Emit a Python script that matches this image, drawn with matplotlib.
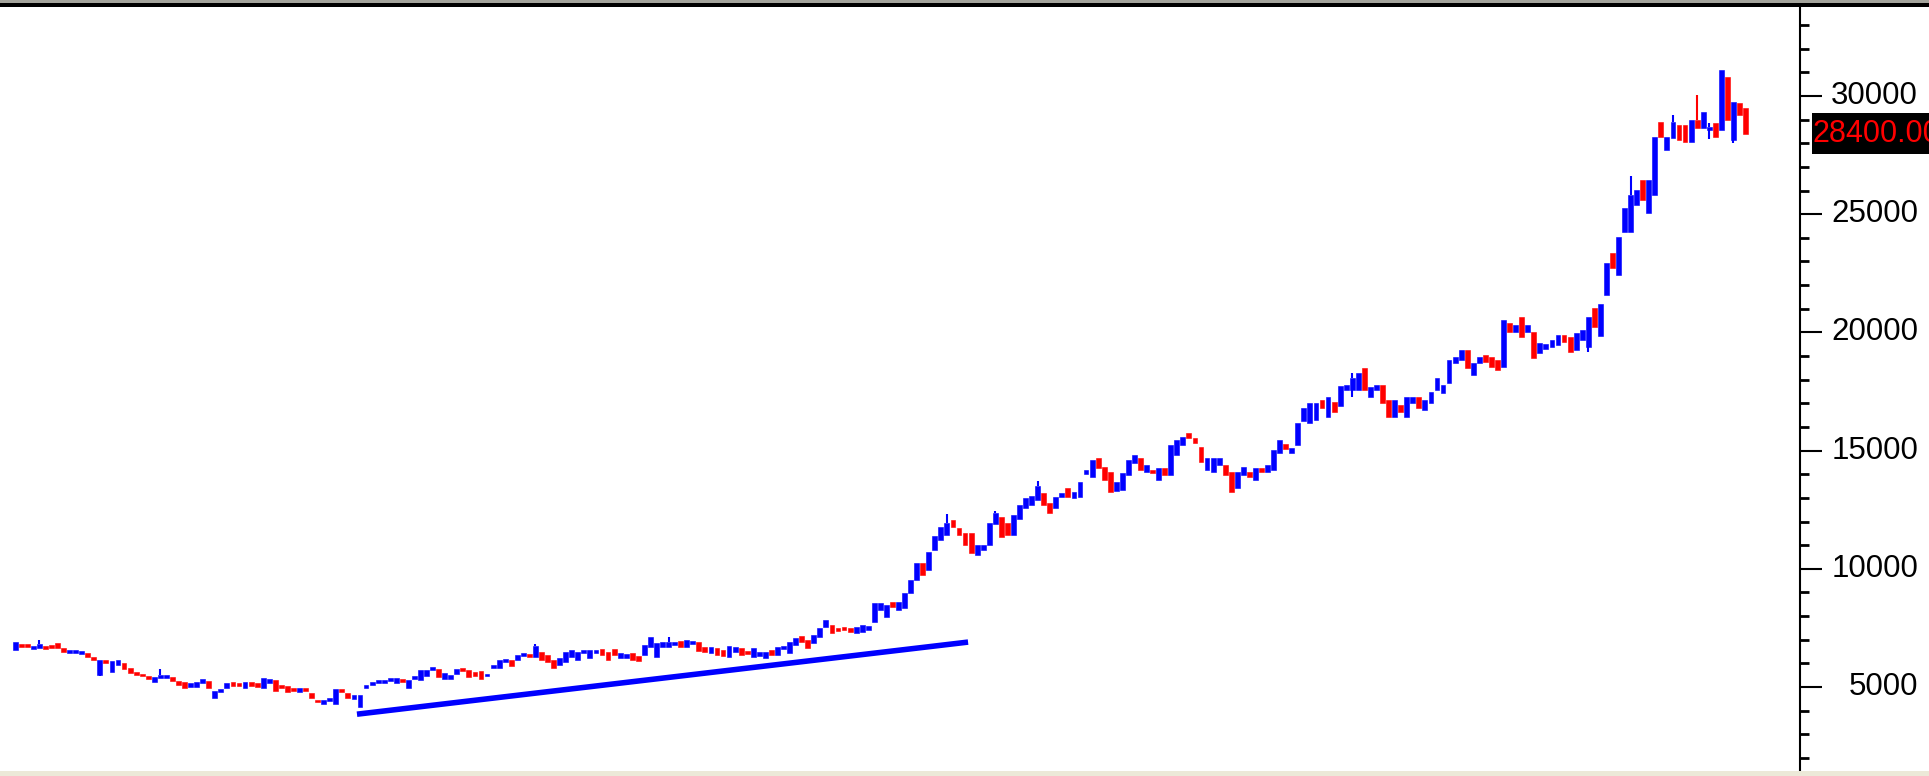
import matplotlib.pyplot as plt
from matplotlib.patches import Rectangle
from matplotlib.ticker import MultipleLocator
from matplotlib.transforms import blended_transform_factory

# weekly candles (oldest first)
opens = [
    6570, 6800, 6780, 6620, 6650, 6750, 6700, 6850, 6650, 6450,
    6450, 6400, 6450, 6250, 5500, 6150, 5650, 5950, 6000, 5800,
    5650, 5550, 5480, 5200, 5380, 5400, 5420, 5250, 5200, 5000,
    5000, 5150, 5250, 4550, 4800, 4950, 5200, 5150, 4950, 5200,
    5150, 4950, 5150, 5300, 5100, 5050, 4950, 4800, 4950, 4750,
    4450, 4300, 4400, 4300, 4850, 4750, 4500, 4150, 4950, 5100,
    5170, 5180, 5250, 5170, 5300, 4960, 5340, 5300, 5460, 5720,
    5760, 5340, 5340, 5550, 5760, 5720, 5630, 5680, 5450, 5800,
    5800, 6050, 6140, 6140, 6310, 6400, 6270, 6480, 6350, 6140,
    5930, 6060, 6270, 6140, 6450, 6230, 6440, 6610, 6480, 6610,
    6230, 6230, 6440, 6310, 6350, 6690, 6270, 6690, 6690, 6780,
    6950, 6690, 6800, 6900, 6700, 6440, 6650, 6570, 6270, 6480,
    6650, 6500, 6270, 6300, 6230, 6570, 6350, 6600, 6440, 6780,
    7150, 6990, 6860, 7100, 7540, 7620, 7500, 7540, 7500, 7280,
    7320, 7400, 7750, 8260, 7960, 8590, 8260, 8340, 8970, 9530,
    10240, 9950, 10800, 11220, 11430, 12050, 11720, 11510, 11510, 10590,
    10800, 11010, 11900, 12190, 11940, 11430, 12100, 12570, 12700, 12900,
    13200, 12780, 12570, 13040, 13420, 13000, 13040, 14000, 13900, 14690,
    14300, 14100, 13290, 13330, 13970, 14480, 14690, 14110, 14180, 13760,
    14260, 13970, 14800, 15240, 15750, 15530, 15150, 14200, 14100, 14390,
    14390, 14100, 13420, 13970, 14100, 13760, 14260, 14100, 14180, 14900,
    15300, 14900, 15240, 16250, 16170, 16300, 17140, 16420, 17060, 16880,
    17560, 17560, 17560, 18500, 17270, 17560, 17770, 17140, 16420, 16930,
    16420, 17020, 17270, 16720, 17010, 17560, 17450, 17840, 18700, 18830,
    19260, 18200, 18700, 19050, 18960, 18830, 18540, 20400, 20010, 20650,
    20010, 20010, 19130, 19300, 19390, 19470, 19890, 19800, 19260, 19680,
    19390, 21030, 19850, 21580, 23360, 22430, 24240, 24240, 25390, 26450,
    25050, 25810, 28900, 27720, 28220, 28770, 28770, 28050, 28990, 28650,
    28560, 28860, 28560, 30800, 28140, 29700, 29500,
]
closes = [
    6900, 6700, 6700, 6700, 6800, 6620, 6650, 6650, 6480, 6560,
    6580, 6520, 6250, 6150, 6150, 6000, 6100, 6150, 5750, 5600,
    5500, 5450, 5350, 5420, 5500, 5460, 5250, 5100, 4950, 5150,
    5200, 5350, 4950, 4850, 4900, 5150, 5050, 5050, 5220, 5050,
    5000, 5400, 5350, 4850, 4950, 4800, 4850, 4950, 4850, 4550,
    4350, 4450, 4500, 4900, 4780, 4550, 4650, 4650, 5080, 5200,
    5250, 5260, 5300, 5380, 5220, 5300, 5420, 5720, 5720, 5850,
    5420, 5590, 5500, 5760, 5680, 5420, 5460, 5340, 5550, 5870,
    6140, 6150, 5890, 6350, 6440, 6270, 6730, 6140, 6060, 5800,
    6230, 6480, 6570, 6480, 6500, 6570, 6570, 6350, 6140, 6350,
    6440, 6400, 6140, 6100, 6780, 7110, 6860, 6900, 6900, 6900,
    6690, 6990, 6950, 6540, 6500, 6690, 6350, 6310, 6730, 6690,
    6350, 6400, 6650, 6500, 6480, 6350, 6690, 6700, 6900, 7070,
    6900, 6650, 7200, 7500, 7830, 7280, 7350, 7410, 7320, 7540,
    7620, 7600, 8550, 8550, 8470, 8380, 8600, 8970, 9530, 10240,
    9740, 10700, 11400, 11770, 11940, 11770, 11430, 11010, 10670, 11010,
    11010, 11940, 12350, 11350, 11430, 12270, 12700, 13000, 13100, 13500,
    12700, 12360, 13040, 13200, 13040, 13250, 13670, 14200, 14600, 14260,
    13760, 13250, 13670, 14050, 14600, 14800, 14180, 14390, 14050, 14260,
    13970, 15240, 15450, 15580, 15530, 15320, 14500, 14700, 14690, 14690,
    13970, 13250, 14100, 14300, 13890, 14260, 14100, 14390, 15030, 15450,
    15050, 15100, 16170, 16800, 17010, 17010, 16800, 17270, 16630, 17720,
    17770, 18070, 18280, 17560, 17690, 17770, 17000, 16420, 17140, 16630,
    17270, 17270, 16800, 17140, 17480, 18070, 17780, 18830, 18960, 19260,
    18500, 18700, 18960, 18750, 18540, 18410, 20520, 20010, 20310, 19800,
    20310, 18900, 19560, 19510, 19680, 19890, 19600, 19180, 19980, 20100,
    20650, 20230, 21200, 22940, 22720, 24030, 25250, 25810, 26020, 25600,
    26450, 28270, 28270, 28270, 28900, 28140, 28050, 28990, 28650, 29320,
    28690, 28270, 31100, 28990, 29750, 29200, 28400,
]
# visible shadows only (candle index -> price)
wick_high = {4: 7000, 24: 5750, 86: 6800, 108: 7100, 154: 12300, 162: 12450,
             169: 13700, 221: 18280, 267: 26600, 274: 29200, 278: 30040,
             280: 28860}
wick_low = {14: 5450, 221: 17270, 260: 19150, 280: 28200, 284: 28000}

# hand-drawn support line (candle index, price)
trend_idx = [56.5, 157.5]
trend_val = [3850, 6900]

last_price = 28400
major_ticks = [5000, 10000, 15000, 20000, 25000, 30000]

W, H = 1929, 776
fig = plt.figure(figsize=(W / 100, H / 100), dpi=100)
fig.patch.set_facecolor("white")
ax = fig.add_axes([0, 5 / H, 1800 / W, 765 / H])

up = "#0000ff"
down = "#ff0000"
idx = list(range(len(opens)))
bottoms = [min(o, c) for o, c in zip(opens, closes)]
heights = [max(abs(c - o), 120) for o, c in zip(opens, closes)]
colors = [up if c >= o else down for o, c in zip(opens, closes)]

for i, hi in wick_high.items():
    ax.vlines(i, max(opens[i], closes[i]), hi, color=colors[i], lw=1.5)
for i, lo in wick_low.items():
    ax.vlines(i, lo, min(opens[i], closes[i]), color=colors[i], lw=1.5)
ax.bar(idx, heights, bottom=bottoms, width=0.8, color=colors,
       edgecolor=colors, linewidth=0.4)

ax.plot(trend_idx, trend_val, color=up, lw=4, solid_capstyle="butt")

ax.set_xlim(-2.5, 295)
ax.set_ylim(1447, 33806)

for s in ["left", "top", "bottom"]:
    ax.spines[s].set_visible(False)
ax.spines["right"].set_linewidth(1.5)
ax.set_xticks([])
ax.yaxis.set_ticks_position("right")
ax.yaxis.set_major_locator(MultipleLocator(5000))
ax.yaxis.set_minor_locator(MultipleLocator(1000))
ax.tick_params(axis="y", which="major", direction="out", length=16, width=1.5,
               labelright=False)
ax.tick_params(axis="y", which="minor", direction="out", length=6.5, width=2)

trans = blended_transform_factory(ax.transAxes, ax.transData)
for v in major_ticks:
    ax.text(1918 / 1800, v, str(v), transform=trans, ha="right", va="center",
            fontsize=22.5, family="Liberation Sans", color="black",
            clip_on=False)

# current price tag (cut by the window edge, as on screen)
ax.add_patch(Rectangle((1812 / 1800, last_price - 870), 0.08, 1740,
                       transform=trans, facecolor="black", edgecolor="none",
                       clip_on=False))
ax.text(1813 / 1800, last_price, f"{last_price:.2f}", transform=trans,
        ha="left", va="center", fontsize=22, family="Liberation Sans",
        color=down, clip_on=False)

# window frame strips
fig.add_artist(Rectangle((0, 773 / H), 1, 3 / H, transform=fig.transFigure,
                         facecolor="#a4a49c", edgecolor="none"))
fig.add_artist(Rectangle((0, 769 / H), 1, 4 / H, transform=fig.transFigure,
                         facecolor="black", edgecolor="none"))
fig.add_artist(Rectangle((0, 0), 1, 5 / H, transform=fig.transFigure,
                         facecolor="#ece9d8", edgecolor="none"))

fig.savefig("out.png", dpi=100)
